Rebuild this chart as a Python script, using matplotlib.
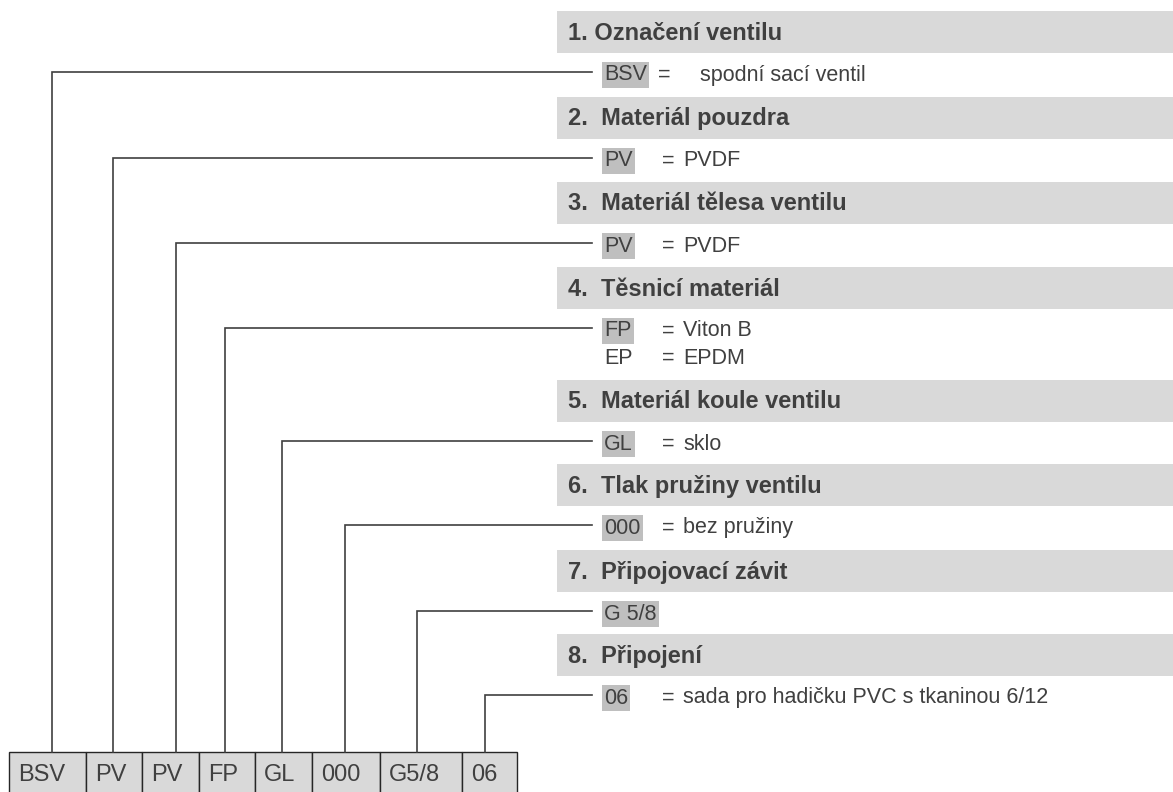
import matplotlib
matplotlib.use('Agg')
import matplotlib.pyplot as plt
from matplotlib.patches import Rectangle

# order code segments (bottom row)
codes = ['BSV', 'PV', 'PV', 'FP', 'GL', '000', 'G5/8', '06']

# section headers on the right
headers = ['1. Označení ventilu', '2.  Materiál pouzdra', '3.  Materiál tělesa ventilu',
           '4.  Těsnicí materiál', '5.  Materiál koule ventilu', '6.  Tlak pružiny ventilu',
           '7.  Připojovací závit', '8.  Připojení']

# options under each header: (code, description); first one is highlighted
options = [
    [('BSV', 'spodní sací ventil')],
    [('PV', 'PVDF')],
    [('PV', 'PVDF')],
    [('FP', 'Viton B'), ('EP', 'EPDM')],
    [('GL', 'sklo')],
    [('000', 'bez pružiny')],
    [('G 5/8', None)],
    [('06', 'sada pro hadičku PVC s tkaninou 6/12')],
]

# layout (pixels)
box_edges = [9, 86, 142, 199, 255, 312, 380, 462, 517]
stem_x = [52, 113, 176, 225, 282, 345, 417, 485]
band_top = [11, 97, 182, 267, 380, 464, 550, 634]
band_h = 42
box_top = 752

dark = '#404040'
band_col = '#d9d9d9'
hl_col = '#bfbfbf'

fig = plt.figure(figsize=(11.73, 7.92), dpi=100)
ax = fig.add_axes([0, 0, 1, 1])
ax.set_xlim(0, 1173)
ax.set_ylim(792, 0)
ax.axis('off')

font = 'Liberation Sans'

for i, (title, opts) in enumerate(zip(headers, options)):
    top = band_top[i]
    ax.add_patch(Rectangle((557, top), 1173 - 557, band_h, facecolor=band_col, edgecolor='none'))
    ax.text(568, top + band_h / 2 + 1, title, fontsize=17, fontweight='bold', color=dark,
            family=font, va='center', ha='left')

    y0 = top + band_h + 22
    for j, (code, desc) in enumerate(opts):
        y = y0 + j * 27
        kw = dict(fontsize=15.5, color=dark, family=font, va='center', ha='left')
        if j == 0:
            ax.text(604, y, code, bbox=dict(boxstyle='square,pad=0.1', facecolor=hl_col,
                                            edgecolor='none'), **kw)
        else:
            ax.text(604, y, code, **kw)
        if desc is not None:
            ax.text(658 if i == 0 else 662, y, '=', **kw)
            ax.text(700 if i == 0 else 683, y, desc, **kw)

    # leader line from the code box up to the option row
    ly = y0 - 3
    ax.plot([stem_x[i], stem_x[i], 592], [box_top, ly, ly], color=dark, lw=1.2,
            solid_joinstyle='miter')

# code boxes at the bottom
for k, code in enumerate(codes):
    x0, x1 = box_edges[k], box_edges[k + 1]
    ax.add_patch(Rectangle((x0, box_top), x1 - x0, 60, facecolor=band_col,
                           edgecolor='#262626', lw=1.0))
    ax.text(x0 + 9, 775, code, fontsize=17, color=dark, family=font, va='center', ha='left')

fig.savefig('out.png', dpi=100)
